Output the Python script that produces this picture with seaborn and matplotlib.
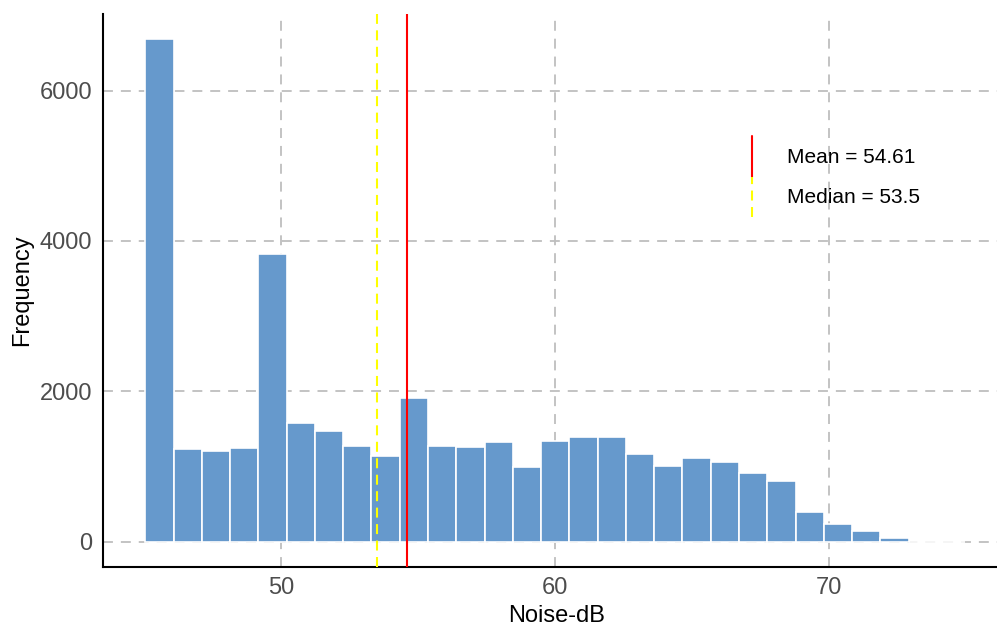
import numpy as np
import pandas as pd
import matplotlib
matplotlib.use("Agg")
import matplotlib.pyplot as plt
import seaborn as sns
from matplotlib.lines import Line2D
from matplotlib.legend_handler import HandlerBase

# ---- data ----
bin_start = 45.03
bin_width = 1.033
counts = [6683, 1229, 1214, 1248, 3833, 1577, 1469, 1278, 1140, 1912,
          1268, 1263, 1325, 998, 1336, 1390, 1390, 1167, 1002, 1109,
          1056, 913, 806, 401, 241, 143, 49, 2, 1]
mean_val = 54.61
median_val = 53.5
x_ticks = [50, 60, 70]
y_ticks = [0, 2000, 4000, 6000]

edges = [bin_start + bin_width * i for i in range(len(counts) + 1)]
centers = [(edges[i] + edges[i + 1]) / 2 for i in range(len(counts))]
df = pd.DataFrame({"noise": centers, "freq": counts})

sns.set_style("white")
plt.rcParams["font.family"] = ["Liberation Sans", "DejaVu Sans"]

W, H = 997, 630
fig = plt.figure(figsize=(W / 100, H / 100), dpi=100)
ax = fig.add_axes([103 / W, 1 - 567 / H, (W - 103) / W, 553 / H])

sns.histplot(data=df, x="noise", weights="freq", bins=edges, color="#6699CC",
             edgecolor="white", linewidth=1.2, alpha=1, ax=ax, zorder=2)

ax.set_axisbelow(True)
ax.grid(True, color="#BEBEBE", linestyle=(0, (5.5, 4.4)), linewidth=1.3)

median_ls = (0, (4.8, 3.1))
ax.axvline(mean_val, color="#FF0000", lw=1.5, zorder=3)
ax.axvline(median_val, color="#FFFF00", lw=1.5, linestyle=median_ls, zorder=3)

ax.set_xlim(43.485, 76.15)
ax.set_ylim(-334, 7017)
ax.set_xticks(x_ticks)
ax.set_yticks(y_ticks)
ax.tick_params(length=0, labelsize=17, labelcolor="#4D4D4D")
ax.tick_params(axis="x", pad=7)
ax.tick_params(axis="y", pad=8)

for s in ["top", "right"]:
    ax.spines[s].set_visible(False)
for s in ["left", "bottom"]:
    ax.spines[s].set_color("black")
    ax.spines[s].set_linewidth(1.5)

ax.set_xlabel("Noise-dB", fontsize=17, color="black")
ax.set_ylabel("Frequency", fontsize=17, color="black")
ax.xaxis.set_label_coords(0.507, -0.069)
ax.yaxis.set_label_coords(-0.078, 0.5)


class VLineHandler(HandlerBase):
    def create_artists(self, legend, orig_handle, xdescent, ydescent,
                       width, height, fontsize, trans):
        x = width / 2 - xdescent
        line = Line2D([x, x], [-ydescent, height - ydescent])
        line.update_from(orig_handle)
        line.set_transform(trans)
        return [line]


handles = [Line2D([], [], color="#FF0000", lw=1.5),
           Line2D([], [], color="#FFFF00", lw=1.5, linestyle=median_ls)]
labels = [f"Mean = {mean_val}", f"Median = {median_val}"]
ax.legend(handles, labels, loc="upper left",
          bbox_to_anchor=(741.6 / W, 1 - 136 / H), bbox_transform=fig.transFigure,
          frameon=False, fontsize=15, handlelength=1, handleheight=2.62,
          handletextpad=1.18, labelspacing=0, borderpad=0, borderaxespad=0,
          labelcolor="black",
          handler_map={Line2D: VLineHandler()})

fig.savefig("out.png", dpi=100)
